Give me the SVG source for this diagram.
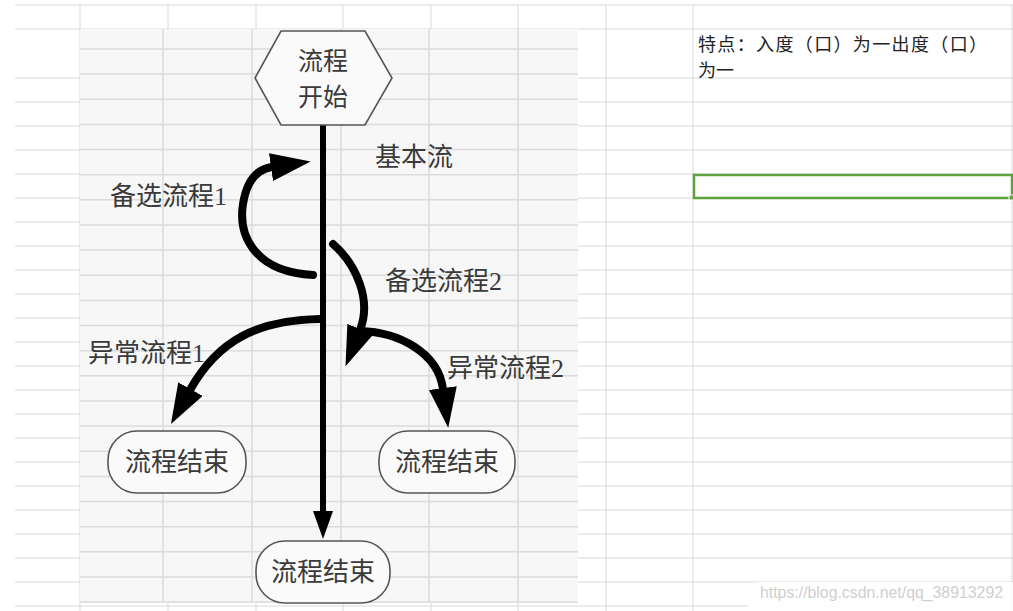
<svg xmlns="http://www.w3.org/2000/svg" width="1013" height="611" viewBox="0 0 1013 611">
<style>
.sg{stroke:#d9d9d9;stroke-width:1;fill:none}
.ig{stroke:#dcdcdc;stroke-width:1.5;fill:none}
.lbl{font-family:"Liberation Serif","Noto Sans CJK SC",serif;font-size:26px;fill:#3a3a3a}
.ntx{font-family:"Noto Sans CJK SC","Liberation Sans",sans-serif;font-size:26px;fill:#3a3a3a;text-anchor:middle}
.shape{fill:#fafafa;stroke:#555;stroke-width:1.6}
.flow{fill:none;stroke:#000;stroke-width:8;stroke-linecap:round}
.main{fill:none;stroke:#000;stroke-width:6;stroke-linecap:round}
.note{font-family:"Noto Sans CJK SC","Liberation Serif",sans-serif;font-size:18px;fill:#222}
</style>
<defs>
<marker id="ahBig" viewBox="0 0 40 28" refX="1" refY="14" markerWidth="40" markerHeight="28" markerUnits="userSpaceOnUse" orient="auto"><path d="M0,0 L40,14 L0,28 z" fill="#000"/></marker>
<marker id="ahMain" viewBox="0 0 28 20" refX="1" refY="10" markerWidth="28" markerHeight="20" markerUnits="userSpaceOnUse" orient="auto"><path d="M0,0 L28,10 L0,20 z" fill="#000"/></marker>
</defs>
<rect x="0" y="0" width="1013" height="611" fill="#ffffff"/>
<g id="sheet-grid" class="sg">
<path d="M15 5H1013M15 29H1013M15 78H1013M15 102H1013M15 126H1013M15 150H1013M15 174H1013M15 198H1013M15 222H1013M15 246H1013M15 270H1013M15 294H1013M15 318H1013M15 342H1013M15 366H1013M15 390H1013M15 414H1013M15 438H1013M15 462H1013M15 486H1013M15 510H1013M15 534H1013M15 558H1013M15 582H1013M15 606H1013"/>
<path d="M80 5V611M168 5V611M256 5V611M343 5V611M431 5V611M518 5V611M606 5V611M693 5V611M1012 5V611"/>
</g>
<g id="pasted-image">
<rect x="80" y="29" width="498" height="574" fill="#f7f7f7"/>
<g class="ig">
<path d="M80 49H578M80 74.1H578M80 99.3H578M80 124.4H578M80 149.6H578M80 174.7H578M80 199.8H578M80 225H578M80 250.1H578M80 275.3H578M80 300.4H578M80 325.5H578M80 350.7H578M80 375.8H578M80 401H578M80 426.1H578M80 451.2H578M80 476.4H578M80 501.5H578M80 526.7H578M80 551.8H578M80 576.9H578M80 602H578"/>
<path d="M163 29V603M252 29V603M341 29V603M429 29V603M518 29V603"/>
</g>
</g>
<g id="connectors">
<path id="basic-flow" class="main" d="M323 125 V512" marker-end="url(#ahMain)"/>
<path id="alt-flow-1" class="flow" d="M313 275 C255 272 238 236 243 204 C247 179 258 169 272 167" marker-end="url(#ahBig)"/>
<path id="alt-flow-2" class="flow" d="M333 244 C356 264 372 300 360 330" marker-end="url(#ahBig)"/>
<path id="exc-flow-1" class="flow" d="M320 319 C258 320 218 340 190 390" marker-end="url(#ahBig)" style="stroke-linecap:butt"/>
<path id="exc-flow-2" class="flow" d="M360 331 C398 332 438 352 443 389" marker-end="url(#ahBig)"/>
</g>
<g id="node-start">
<polygon class="shape" points="281,31 365,31 392,78 365,125 281,125 255,78"/>
<text class="ntx" x="323" y="70" style="font-size:25px">流程</text>
<text class="ntx" x="323" y="106" style="font-size:25px">开始</text>
</g>
<g id="node-end-left">
<rect class="shape" x="108" y="431" width="138" height="62" rx="29" ry="29"/>
<text class="ntx" x="177" y="471">流程结束</text>
</g>
<g id="node-end-right">
<rect class="shape" x="379" y="431" width="136" height="62" rx="29" ry="29"/>
<text class="ntx" x="447" y="471">流程结束</text>
</g>
<g id="node-end-main">
<rect class="shape" x="256" y="541" width="134" height="62" rx="29" ry="29"/>
<text class="ntx" x="323" y="581">流程结束</text>
</g>
<g id="labels">
<text class="lbl" x="375" y="166">基本流</text>
<text class="lbl" x="110" y="205">备选流程1</text>
<text class="lbl" x="385" y="290">备选流程2</text>
<text class="lbl" x="88" y="362">异常流程1</text>
<text class="lbl" x="447" y="377">异常流程2</text>
</g>
<g id="note">
<text class="note" x="698" y="51" textLength="289">特点：入度（口）为一出度（口）</text>
<text class="note" x="698" y="77">为一</text>
</g>
<g id="selection">
<rect x="694" y="175" width="318" height="23" fill="none" stroke="#5fa33e" stroke-width="2.5"/>
<rect x="1009" y="195" width="5" height="5" fill="#5fa33e" stroke="#fff" stroke-width="1"/>
</g>
<g id="watermark">
<rect x="748" y="582" width="275" height="34" rx="10" fill="#ffffff" fill-opacity="0.88"/>
<text x="760" y="598" textLength="243" lengthAdjust="spacingAndGlyphs" style="font-family:'Liberation Sans',sans-serif;font-size:16px;fill:#cfcfcf">https://blog.csdn.net/qq_38913292</text>
</g>
</svg>
